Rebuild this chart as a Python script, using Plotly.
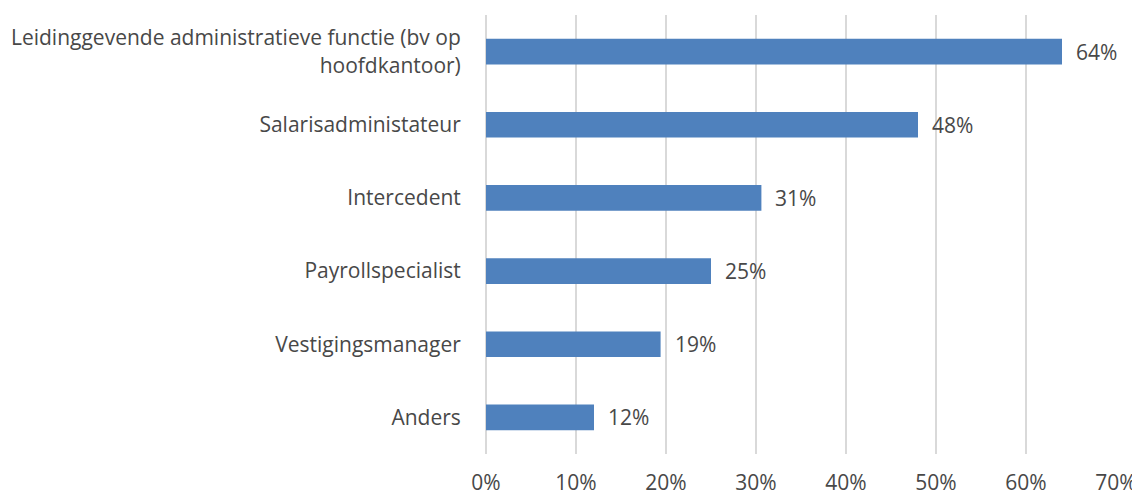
import plotly.graph_objects as go

categories = [
    "Leidinggevende administratieve functie (bv op<br>hoofdkantoor)",
    "Salarisadministateur",
    "Intercedent",
    "Payrollspecialist",
    "Vestigingsmanager",
    "Anders",
]
values = [0.64, 0.48, 0.306, 0.25, 0.194, 0.12]
value_labels = ["64%", "48%", "31%", "25%", "19%", "12%"]
x_ticks = [0, 0.1, 0.2, 0.3, 0.4, 0.5, 0.6, 0.7]

BAR = "#4F81BD"
TEXT = "#484848"
GRID = "#D9D9D9"
FONT = "Open Sans, sans-serif"
SIZE = 21

fig = go.Figure(go.Bar(
    x=values,
    y=categories,
    orientation="h",
    marker=dict(color=BAR, line_width=0),
    hoverinfo="skip",
))

# value labels just right of each bar
for v, lab, cat in zip(values, value_labels, categories):
    fig.add_annotation(x=v, y=cat, text=lab, showarrow=False, xanchor="left",
                       xshift=12, font=dict(size=SIZE, color=TEXT, family=FONT))

# the page body adds 8px, so the figure is made 8px smaller each way
fig.update_layout(
    width=1132, height=492,
    margin=dict(l=478, r=24, t=7, b=46),
    plot_bgcolor="white", paper_bgcolor="white",
    bargap=0.65,
    showlegend=False,
    font=dict(family=FONT, size=SIZE, color=TEXT),
)
fig.update_xaxes(
    range=[0, 0.7], tickvals=x_ticks, tickformat=".0%",
    showgrid=True, gridcolor=GRID, gridwidth=2,
    zeroline=True, zerolinecolor=GRID, zerolinewidth=2,
    ticks="outside", ticklen=10, tickcolor="rgba(0,0,0,0)",
    showline=False, automargin=False,
)
fig.update_yaxes(
    autorange="reversed", categoryorder="array", categoryarray=categories,
    ticks="outside", ticklen=20, tickcolor="rgba(0,0,0,0)",
    showgrid=False, showline=False, automargin=False,
)

fig.write_html("out.html")
